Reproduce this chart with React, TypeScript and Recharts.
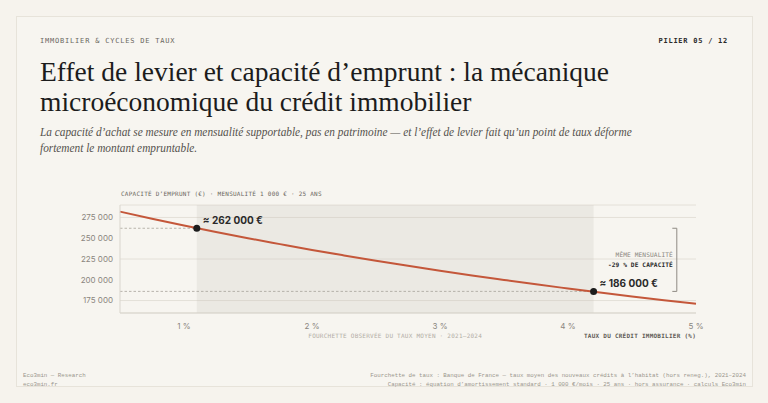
import { CartesianGrid, Line, LineChart, ReferenceArea, ReferenceDot, ReferenceLine, XAxis, YAxis } from "recharts";

// Capacité d'emprunt (mensualité 1 000 €, 25 ans)
const RATES = [0.5, 0.75, 1, 1.25, 1.5, 1.75, 2, 2.25, 2.5, 2.75, 3, 3.25, 3.5, 3.75, 4, 4.25, 4.5, 4.75, 5];
const CAPACITY = [
  282000, 273500, 265300, 257500, 250000, 242900, 235900, 229300, 222900, 216800, 210900, 205200, 199800, 194500,
  189500, 184600, 179900, 175400, 171100,
];

const X_TICKS = [1, 2, 3, 4, 5];
const Y_TICKS = [175000, 200000, 225000, 250000, 275000];

const OBSERVED_RANGE = [1.1, 4.2];
const MARKER_RATES = [1.1, 4.2];
const MARKER_VALUES = [262000, 186000];
const MARKER_LABELS = ["≈ 262 000 €", "≈ 186 000 €"];

const BRACKET_X = 4.85;

const BG = "#f6f3ed";
const RUST = "#c4573a";
const MONO = "'DejaVu Sans Mono', monospace";
const FOOT_MONO = "'Liberation Mono', monospace";
const SANS = "Inter, 'Noto Sans', sans-serif";
const SERIF = "'Liberation Serif', 'DejaVu Serif', serif";

const fmt = (v: number) => v.toLocaleString("fr-FR").replace(/\s/g, " ");

export default function App() {
  const data = RATES.map((r, i) => ({ rate: r, capacity: CAPACITY[i] }));

  return (
    <div
      style={{
        position: "absolute",
        left: 0,
        top: 0,
        width: 768,
        height: 403,
        background: BG,
        overflow: "hidden",
        fontFamily: SANS,
      }}
    >
      {/* carte */}
      <div
        style={{
          position: "absolute",
          left: 16,
          top: 16,
          width: 735,
          height: 369,
          border: "1px solid #e7e3da",
          background: "#f7f5f0",
        }}
      />

      <div style={{ position: "absolute", left: 40, top: 37, fontFamily: MONO, fontSize: 7, letterSpacing: 0.8, color: "#6b6760" }}>
        IMMOBILIER &amp; CYCLES DE TAUX
      </div>
      <div
        style={{
          position: "absolute",
          right: 40,
          top: 37,
          fontFamily: MONO,
          fontSize: 7,
          letterSpacing: 0.75,
          fontWeight: 700,
          color: "#2a2a2a",
        }}
      >
        PILIER 05 / 12
      </div>

      <div
        style={{
          position: "absolute",
          left: 40,
          top: 56.5,
          width: 720,
          fontFamily: SERIF,
          fontSize: 27.5,
          lineHeight: "30.5px",
          color: "#1c1c1c",
          whiteSpace: "nowrap",
        }}
      >
        Effet de levier et capacité d’emprunt : la mécanique
        <br />
        microéconomique du crédit immobilier
      </div>

      <div
        style={{
          position: "absolute",
          left: 40,
          top: 124,
          width: 760,
          fontFamily: SERIF,
          fontStyle: "italic",
          fontSize: 12,
          lineHeight: "16px",
          color: "#55524d",
          transform: "scaleX(0.943)",
          transformOrigin: "left top",
          whiteSpace: "nowrap",
        }}
      >
        La capacité d’achat se mesure en mensualité supportable, pas en patrimoine — et l’effet de levier fait qu’un point de
        taux déforme
        <br />
        fortement le montant empruntable.
      </div>

      <div
        style={{
          position: "absolute",
          left: 121,
          top: 190,
          fontFamily: MONO,
          fontSize: 6,
          letterSpacing: 0.25,
          color: "#6b6760",
        }}
      >
        CAPACITÉ D’EMPRUNT (€) · MENSUALITÉ 1 000 € · 25 ANS
      </div>

      <div style={{ position: "absolute", left: 60, top: 190 }}>
        <LineChart width={650} height={153} data={data} margin={{ top: 15, right: 14, bottom: 0, left: 0 }}>
          <ReferenceArea
            x1={OBSERVED_RANGE[0]}
            x2={OBSERVED_RANGE[1]}
            fill="#c6c1b8"
            fillOpacity={0.22}
            stroke="none"
          />
          <CartesianGrid vertical={false} stroke="#e4e0d8" strokeWidth={1} />
          <XAxis
            dataKey="rate"
            type="number"
            domain={[0.5, 5]}
            ticks={X_TICKS}
            tickFormatter={(v: number) => `${v} %`}
            tickLine={false}
            tickSize={0}
            tickMargin={10}
            axisLine={{ stroke: "#d9d5cd" }}
            tick={{ fontSize: 8, fill: "#8a857e", fontFamily: SANS }}
            height={30}
          />
          <YAxis
            type="number"
            domain={[160000, 290000]}
            ticks={Y_TICKS}
            tickFormatter={fmt}
            tickLine={false}
            tickSize={0}
            tickMargin={7}
            axisLine={{ stroke: "#d9d5cd" }}
            tick={{ fontSize: 8, fill: "#8a857e", fontFamily: SANS }}
            width={60}
          />

          {MARKER_RATES.map((r, i) => (
            <ReferenceLine
              key={`dash-${i}`}
              segment={[
                { x: 0.5, y: MARKER_VALUES[i] },
                { x: r, y: MARKER_VALUES[i] },
              ]}
              stroke="#a8a39b"
              strokeWidth={0.8}
              strokeDasharray="2.5 2"
            />
          ))}

          <Line
            type="monotone"
            dataKey="capacity"
            stroke={RUST}
            strokeWidth={2}
            dot={false}
            isAnimationActive={false}
          />

          {/* accolade : même mensualité */}
          <ReferenceLine
            segment={[
              { x: BRACKET_X, y: MARKER_VALUES[0] },
              { x: BRACKET_X, y: MARKER_VALUES[1] },
            ]}
            stroke="#8f8a83"
            strokeWidth={1}
          />
          {MARKER_VALUES.map((v, i) => (
            <ReferenceLine
              key={`tick-${i}`}
              segment={[
                { x: BRACKET_X - 0.035, y: v },
                { x: BRACKET_X, y: v },
              ]}
              stroke="#8f8a83"
              strokeWidth={1}
            />
          ))}
          <ReferenceDot
            x={4.82}
            y={230000}
            r={0}
            shape={(p: any) => (
              <g fontFamily={MONO} fontSize={6.2} textAnchor="end">
                <text x={p.cx} y={p.cy} dy="0.35em" fill="#8a857e" letterSpacing={0.1}>
                  MÊME MENSUALITÉ
                </text>
                <text x={p.cx} y={p.cy + 9.5} dy="0.35em" fill="#2a2a2a" fontWeight={700} letterSpacing={0.1}>
                  -29 % DE CAPACITÉ
                </text>
              </g>
            )}
          />

          {MARKER_RATES.map((r, i) => (
            <ReferenceDot
              key={`pt-${i}`}
              x={r}
              y={MARKER_VALUES[i]}
              r={3.5}
              shape={(p: any) => (
                <g>
                  <circle cx={p.cx} cy={p.cy} r={3.5} fill="#1c1c1c" />
                  <text
                    x={p.cx + 6}
                    y={p.cy - 7.5}
                    dy="0.35em"
                    fontFamily={SANS}
                    fontSize={10}
                    fontWeight={700}
                    fill="#2a2a2a"
                  >
                    {MARKER_LABELS[i]}
                  </text>
                </g>
              )}
            />
          ))}

          {/* légendes sous l'axe */}
          <ReferenceDot
            x={(OBSERVED_RANGE[0] + OBSERVED_RANGE[1]) / 2}
            y={160000}
            r={0}
            shape={(p: any) => (
              <text
                x={p.cx}
                y={p.cy + 22.5}
                dy="0.35em"
                textAnchor="middle"
                fontFamily={MONO}
                fontSize={6}
                letterSpacing={0.25}
                fill="#b3aea6"
              >
                FOURCHETTE OBSERVÉE DU TAUX MOYEN · 2021–2024
              </text>
            )}
          />
          <ReferenceDot
            x={5}
            y={160000}
            r={0}
            shape={(p: any) => (
              <text
                x={p.cx}
                y={p.cy + 22.5}
                dy="0.35em"
                textAnchor="end"
                fontFamily={MONO}
                fontSize={6}
                letterSpacing={0.25}
                fontWeight={700}
                fill="#5f5b55"
              >
                TAUX DU CRÉDIT IMMOBILIER (%)
              </text>
            )}
          />
        </LineChart>
      </div>

      {/* pied de page */}
      <div style={{ position: "absolute", left: 23, top: 371, fontFamily: FOOT_MONO, fontSize: 5.8, lineHeight: "9px", color: "#9a958d" }}>
        Eco3min — Research
        <br />
        eco3min.fr
      </div>
      <div
        style={{
          position: "absolute",
          right: 22,
          top: 371,
          textAlign: "right",
          fontFamily: FOOT_MONO,
          fontSize: 5.8,
          lineHeight: "9px",
          color: "#9a958d",
          whiteSpace: "nowrap",
        }}
      >
        Fourchette de taux : Banque de France — taux moyen des nouveaux crédits à l’habitat (hors reneg.), 2021–2024
        <br />
        Capacité : équation d’amortissement standard · 1 000 €/mois · 25 ans · hors assurance · calculs Eco3min
      </div>
    </div>
  );
}
